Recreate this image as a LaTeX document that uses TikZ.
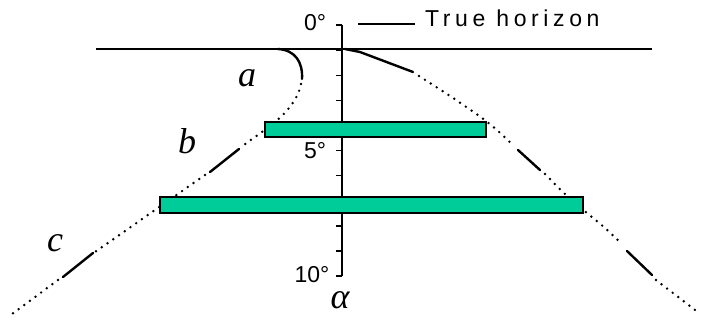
\documentclass[tikz,border=0pt]{standalone}
\usepackage{fontspec}
\setmainfont{Liberation Serif}
\setsansfont{Liberation Sans}
\definecolor{barfill}{RGB}{0,204,153}
\begin{document}
\begin{tikzpicture}[x=1pt,y=-1pt,
  solidseg/.style={line width=2.4pt, line cap=round},
  dotseg/.style={line width=2.7pt, line cap=round, dash pattern=on 0pt off 7pt},
  bar/.style={draw=black, line width=1.6pt, fill=barfill, inner sep=0pt, outer sep=0pt},
  tick/.style={line width=1.4pt},
  scalelabel/.style={font=\sffamily\fontsize{23}{23}\selectfont, inner sep=0pt},
  curvelabel/.style={font=\itshape\fontsize{36}{36}\selectfont, inner sep=0pt}]
\useasboundingbox (0,0) rectangle (701,321);
% horizon and axis
\coordinate (hl) at (96,49);
\coordinate (hr) at (652,49);
\draw[line width=1.6pt] (hl) -- (hr);
\coordinate (atop) at (342,25);
\coordinate (abot) at (342,276);
\draw[line width=1.6pt] (atop) -- (abot);
\foreach \k in {0,...,10} {
  \draw[tick] (342,{25+25.1*\k}) -- ++(-6.5,0);
}
\node[scalelabel] (l0) at (315,23) {0°};
\node[scalelabel] (l5) at (315,151) {5°};
\node[scalelabel] (l10) at (312,275) {10°};
\node[curvelabel] (alpha) at (340,300) {α};
% legend
\coordinate (lega) at (358,24);
\coordinate (legb) at (415,24);
\draw[line width=1.4pt] (lega) -- (legb);
\node[font=\sffamily\fontsize{23}{23}\selectfont\addfontfeature{LetterSpace=20}, anchor=west, inner sep=0pt] (legtext) at (425,18) {True horizon};
% left curve
\draw[solidseg] (278,49) .. controls (295,50) and (303,62) .. (302,79);
\draw[dotseg] (301,84) .. controls (298,100) and (285,116) .. (262,132) -- (241,147);
\draw[solidseg] (239,149) -- (210,172);
\draw[dotseg] (205,175) -- (95,252);
\draw[solidseg] (93,253) -- (63,277);
\draw[dotseg] (58,280) -- (8,317);
% right curve
\draw[solidseg] (345,49) -- (360,52) -- (413,72);
\draw[dotseg] plot[smooth] coordinates {(419,76) (450,96) (482,118) (498,131) (514,146)};
\draw[solidseg] (518,150) -- (540,170);
\draw[dotseg] plot[smooth] coordinates {(545,174) (567,196) (587,213) (605,228) (622,244)};
\draw[solidseg] (627,251) -- (652,275);
\draw[dotseg] (656,280) -- (699,313);
% labels
\node[curvelabel] (la) at (247,78) {a};
\node[curvelabel] (lb) at (187,141) {b};
\node[curvelabel] (lc) at (55,243) {c};
% bars
\node[bar, minimum width=221pt, minimum height=15pt] (bar1) at (375.5,129.5) {};
\node[bar, minimum width=423pt, minimum height=16pt] (bar2) at (371.5,205) {};
\end{tikzpicture}
\end{document}
